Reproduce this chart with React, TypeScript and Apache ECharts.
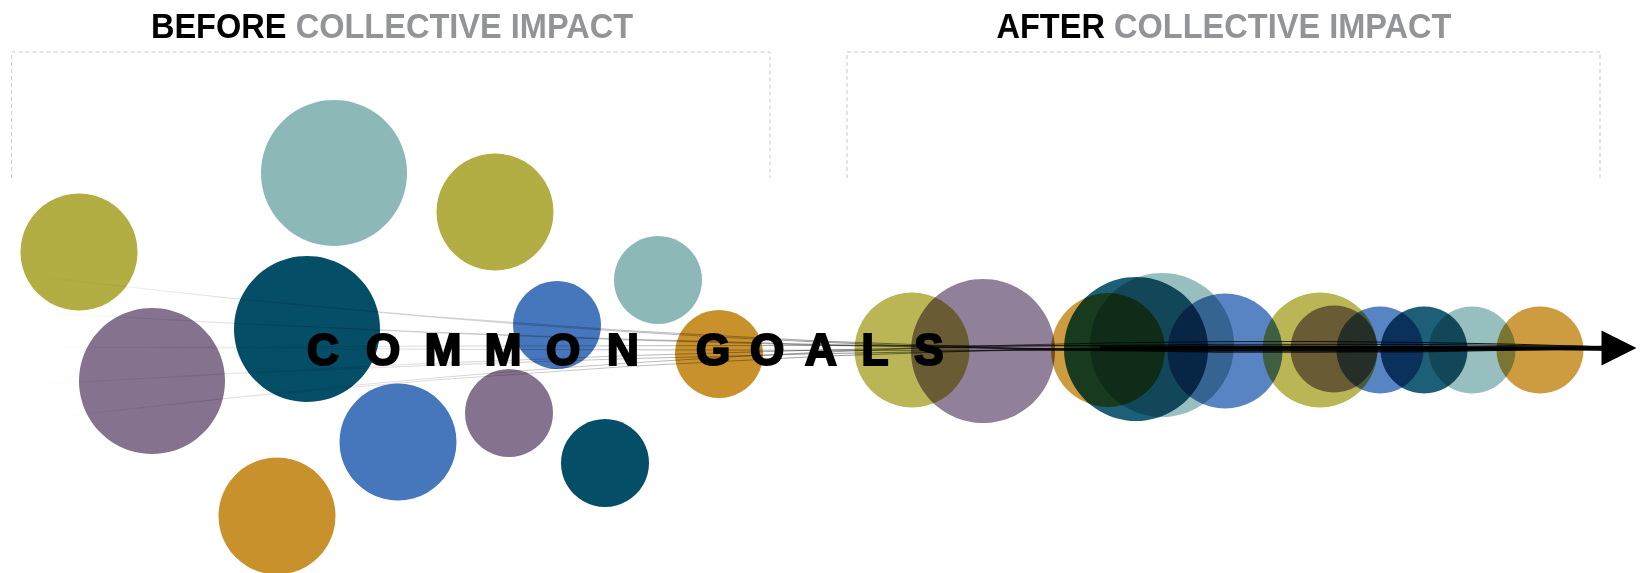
import React, { useEffect, useRef } from "react";
import * as echarts from "echarts";

const W = 1642;
const H = 573;

// colour groups
const groupNames = ["olive", "teal", "darkTeal", "blue", "purple", "orange"];
const palette: Record<string, string> = {
  olive: "#b2ae44",
  teal: "#8db8b8",
  darkTeal: "#044e68",
  blue: "#4677bd",
  purple: "#84728e",
  orange: "#c8912c",
};

// BEFORE: scattered efforts (x, y, diameter)
const beforeX = [79, 334, 495, 658, 307, 557, 152, 719, 398, 509, 605, 277];
const beforeY = [252, 173, 212, 280, 329, 325, 381, 354, 442, 413, 463, 516];
const beforeSize = [117, 146, 117, 88, 146, 88, 146, 88, 117, 88, 88, 117];
const beforeGroup = [0, 1, 0, 1, 2, 3, 4, 5, 3, 4, 2, 5];

// AFTER: aligned efforts (x, y, diameter)
const afterX = [912, 983, 1108, 1162, 1136, 1225, 1320, 1334, 1380, 1424, 1472, 1540];
const afterY = [350, 351, 350, 345, 349, 351, 350, 349, 350, 350, 350, 350];
const afterSize = [115, 144, 114, 144, 144, 115, 115, 87, 87, 87, 87, 87];
const afterGroup = [0, 4, 5, 1, 2, 3, 0, 4, 3, 2, 1, 5];

// converging threads
const fanStartX = [30, 34, 35, 40, 40, 44, 33, 36, 40, 44];
const fanStartY = [275, 277, 312, 313, 348, 347, 385, 384, 420, 418];
const fanEndX = [1612, 1612, 1612, 1612, 1612, 1612, 1612, 1612, 1612, 1612];
const fanEndY = [346, 348.5, 347, 349.5, 347.5, 349, 346.5, 350, 347, 350.5];
const fanCurve = [-0.04, -0.036, -0.02, -0.017, 0.003, -0.003, 0.02, 0.017, 0.04, 0.036];

// arrow
const arrowFrom = [1100, 348];
const arrowTo = [1619, 348];

// texts
const beforeTitle = ["BEFORE", "COLLECTIVE IMPACT"];
const afterTitle = ["AFTER", "COLLECTIVE IMPACT"];
const goalWords = ["COMMON", "GOALS"];

export default function App() {
  const ref = useRef<HTMLDivElement>(null);

  useEffect(() => {
    document.body.style.margin = "0";
    const chart = echarts.init(ref.current!, null, { renderer: "svg" });

    const beforeData = beforeX.map((x, i) => ({
      value: [x, beforeY[i], beforeSize[i]],
      itemStyle: { color: palette[groupNames[beforeGroup[i]]], opacity: 1 },
    }));
    const afterData = afterX.map((x, i) => ({
      value: [x, afterY[i], afterSize[i]],
      itemStyle: { color: palette[groupNames[afterGroup[i]]], opacity: 0.9 },
    }));

    const fanData = fanStartX.map((x, i) => ({
      coords: [
        [x, fanStartY[i]],
        [fanEndX[i], fanEndY[i]],
      ],
      lineStyle: {
        curveness: fanCurve[i],
        width: 1,
        opacity: 1,
        color: new echarts.graphic.LinearGradient(0, 0, 1, 0, [
          { offset: 0, color: "rgba(0,0,0,0)" },
          { offset: 0.25, color: "rgba(0,0,0,0.14)" },
          { offset: 0.45, color: "rgba(0,0,0,0.32)" },
          { offset: 0.6, color: "rgba(0,0,0,0.55)" },
          { offset: 0.75, color: "rgba(0,0,0,0.8)" },
          { offset: 1, color: "rgba(0,0,0,0.9)" },
        ]),
      },
    }));

    const titleFont = "'Liberation Sans', Arial, sans-serif";
    const titleText = (parts: string[], cx: number) => ({
      type: "text",
      x: cx,
      y: 26,
      scaleX: 0.93,
      z: 50,
      style: {
        text: `{a|${parts[0]} }{b|${parts[1]}}`,
        align: "center",
        verticalAlign: "middle",
        rich: {
          a: { fontFamily: titleFont, fontWeight: "bold", fontSize: 35, fill: "#000000", lineHeight: 36 },
          b: { fontFamily: titleFont, fontWeight: "bold", fontSize: 35, fill: "#929497", lineHeight: 36 },
        },
      },
    });

    const box = (x1: number, x2: number) => ({
      type: "polyline",
      z: 1,
      shape: { points: [[x1, 178], [x1, 52], [x2, 52], [x2, 178]] },
      style: { stroke: "#c9c9c9", lineWidth: 1, lineDash: [4, 3], fill: null },
    });

    const letters: any[] = [];
    const wordStart = [323, 713];
    const wordStep = [60, 54];
    goalWords.forEach((w, wi) => {
      w.split("").forEach((ch, ci) => {
        letters.push({
          type: "text",
          x: wordStart[wi] + ci * wordStep[wi],
          y: 349,
          z: 100,
          style: {
            text: ch,
            align: "center",
            verticalAlign: "middle",
            font: "bold 44px 'Liberation Sans', Arial, sans-serif",
            fill: "#000000",
            stroke: "#000000",
            lineWidth: 2.2,
          },
        });
      });
    });

    chart.setOption({
      animation: false,
      backgroundColor: "#ffffff",
      grid: { left: 0, right: 0, top: 0, bottom: 0 },
      xAxis: { type: "value", min: 0, max: W, show: false },
      yAxis: { type: "value", min: 0, max: H, inverse: true, show: false },
      series: [
        {
          type: "scatter",
          name: "before",
          silent: true,
          z: 2,
          symbol: "circle",
          symbolSize: (v: number[]) => v[2],
          itemStyle: { opacity: 1 },
          data: beforeData,
        },
        {
          type: "scatter",
          name: "after",
          silent: true,
          z: 3,
          symbol: "circle",
          symbolSize: (v: number[]) => v[2],
          itemStyle: { opacity: 0.9 },
          data: afterData,
        },
        {
          type: "lines",
          name: "threads",
          coordinateSystem: "cartesian2d",
          silent: true,
          z: 4,
          data: fanData,
        },
        {
          type: "lines",
          name: "arrow",
          coordinateSystem: "cartesian2d",
          silent: true,
          z: 5,
          symbol: ["none", "triangle"],
          symbolSize: 35,
          lineStyle: { color: "#000000", width: 3.5, opacity: 1 },
          data: [{ coords: [arrowFrom, arrowTo] }],
        },
      ],
      graphic: [
        box(11.5, 770),
        box(847, 1600),
        titleText(beforeTitle, 392),
        titleText(afterTitle, 1224),
        ...letters,
      ],
    } as any);

    return () => chart.dispose();
  }, []);

  return (
    <div>
      <style>{`#ci-chart svg path { mix-blend-mode: multiply; }`}</style>
      <div id="ci-chart" ref={ref} style={{ width: W, height: H }} />
    </div>
  );
}
